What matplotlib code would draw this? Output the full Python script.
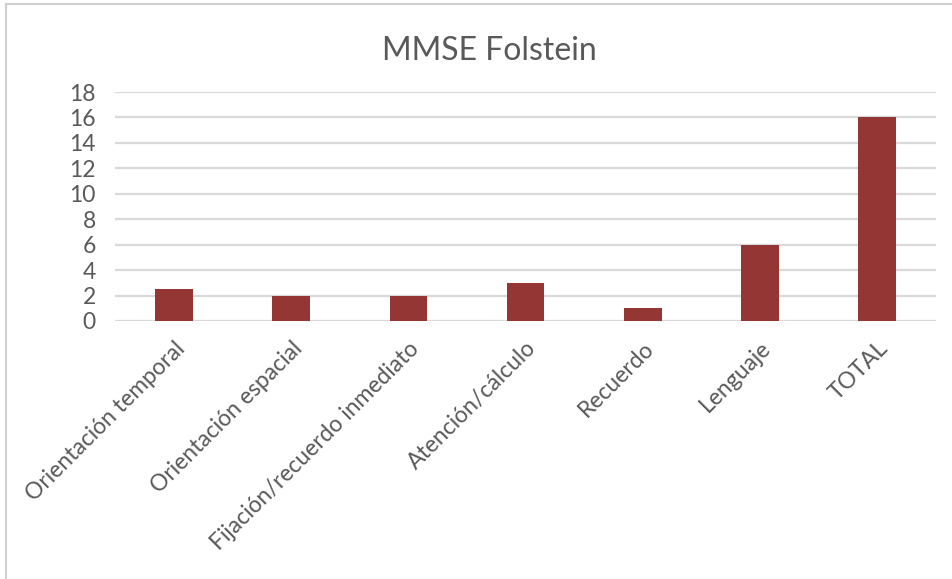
import matplotlib
matplotlib.use("Agg")
import matplotlib.pyplot as plt
from matplotlib.patches import Rectangle

# ── Data ──────────────────────────────────────────────────────────────────────
categories = [
    "Orientación temporal",
    "Orientación espacial",
    "Fijación/recuerdo inmediato",
    "Atención/cálculo",
    "Recuerdo",
    "Lenguaje",
    "TOTAL",
]
scores = [2.5, 2, 2, 3, 1, 6, 16]
yticks = [0, 2, 4, 6, 8, 10, 12, 14, 16, 18]

BAR_COLOR = "#943634"
TEXT_COLOR = "#595959"
GRID_COLOR = "#d9d9d9"

plt.rcParams["font.family"] = ["Lato", "DejaVu Sans"]

fig = plt.figure(figsize=(9.53, 5.79), dpi=100)
ax = fig.add_axes([0.121, 0.4456, 0.861, 0.3955])

x = range(len(categories))
ax.bar(x, scores, width=0.32, color=BAR_COLOR, zorder=3)

ax.set_ylim(0, 18)
ax.set_xlim(-0.5, len(categories) - 0.5)
ax.set_yticks(yticks)
ax.set_yticklabels([str(v) for v in yticks], fontsize=16.5, color=TEXT_COLOR)
ax.set_xticks(list(x))
ax.set_xticklabels(categories, rotation=45, ha="right", rotation_mode="anchor",
                   fontsize=16.5, color=TEXT_COLOR)
ax.tick_params(axis="y", length=0, pad=14)
ax.tick_params(axis="x", length=0, pad=12)
ax.yaxis.grid(True, color=GRID_COLOR, linewidth=1.6, zorder=0)
for s in ax.spines.values():
    s.set_visible(False)

fig.text(0.513, 0.912, "MMSE Folstein", ha="center", va="center",
         fontsize=23, color=TEXT_COLOR)

# outer chart frame (only top and left edges fall inside the crop)
fig.patches.append(Rectangle((0.006, -0.1), 1.2, 1.093, transform=fig.transFigure,
                             fill=False, edgecolor="#d0d0d0", linewidth=1.5))

fig.savefig("out.png", dpi=100)
